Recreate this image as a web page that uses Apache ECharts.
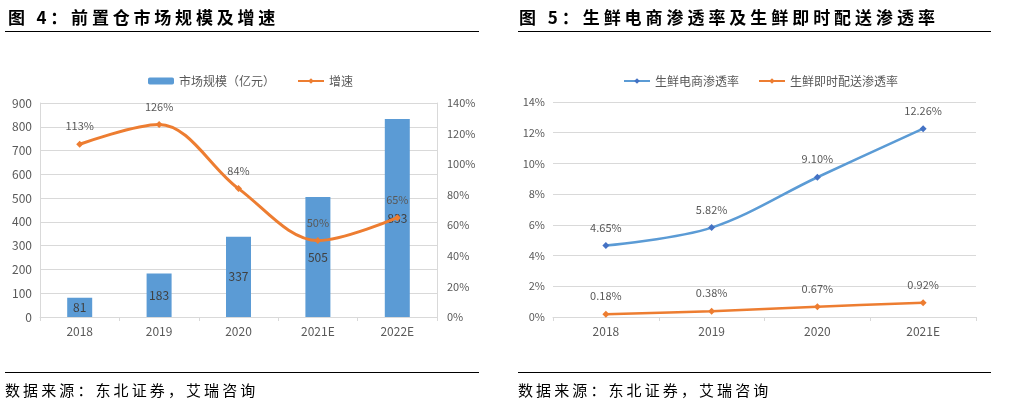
<!DOCTYPE html>
<html>
<head>
<meta charset="utf-8">
<script src="https://cdn.jsdelivr.net/npm/echarts@6/dist/echarts.min.js"></script>
<style>
  html, body { margin: 0; padding: 0; background: #fff; }
  #wrap { position: relative; width: 1012px; height: 399px; overflow: hidden; }
  #chart { position: absolute; left: 0; top: 0; width: 1012px; height: 399px; }
  .title, .source { position: absolute; font-family: 'Noto Sans CJK SC', sans-serif; color: #000; white-space: nowrap; }
  .title { font-size: 17px; font-weight: bold; line-height: 20px; top: 7px; }
  .source { font-size: 15px; line-height: 18px; top: 381px; letter-spacing: 3.1px; }
  .rule { position: absolute; height: 0; border-top: 1.3px solid #000; }
</style>
</head>
<body>
<div id="wrap">
  <div id="chart"></div>
  <div class="title" style="left:8px; letter-spacing:3.8px;">图 4：前置仓市场规模及增速</div>
  <div class="rule" style="left:5px; width:474px; top:31px;"></div>
  <div class="title" style="left:519px; letter-spacing:3.95px;">图 5：生鲜电商渗透率及生鲜即时配送渗透率</div>
  <div class="rule" style="left:518px; width:473px; top:31px;"></div>
  <div class="rule" style="left:5px; width:474px; top:372px;"></div>
  <div class="source" style="left:5px;">数据来源：东北证券，艾瑞咨询</div>
  <div class="rule" style="left:518px; width:473px; top:372px;"></div>
  <div class="source" style="left:518px;">数据来源：东北证券，艾瑞咨询</div>
</div>
<script>
// left chart: 前置仓市场规模及增速
const years1 = ['2018', '2019', '2020', '2021E', '2022E'];
const marketSize = [81, 183, 337, 505, 833];
const growthRate = [113, 126, 84, 50, 65];

// right chart: 渗透率
const years2 = ['2018', '2019', '2020', '2021E'];
const ecomRate = [4.65, 5.82, 9.10, 12.26];
const instantRate = [0.18, 0.38, 0.67, 0.92];

const FONT = 'Noto Sans CJK SC';
const GREY = '#595959';
const LINE_GREY = '#D9D9D9';

const chart = echarts.init(document.getElementById('chart'), null, { renderer: 'canvas' });

const catAxis = (gridIndex, data) => ({
  type: 'category',
  gridIndex,
  data,
  axisLine: { lineStyle: { color: LINE_GREY } },
  axisTick: { show: true, length: 4, lineStyle: { color: LINE_GREY } },
  axisLabel: { color: GREY, fontSize: 12, fontFamily: FONT, margin: 8 }
});

const pctLabel = {
  show: true, position: 'top', distance: 9, color: GREY, fontSize: 11, fontFamily: FONT,
  formatter: p => p.value.toFixed(2) + '%'
};

const option = {
  animation: false,
  backgroundColor: '#fff',
  textStyle: { fontFamily: FONT },
  legend: [
    {
      left: 143,
      top: 70,
      itemWidth: 26,
      itemHeight: 7,
      itemGap: 22,
      textStyle: { color: GREY, fontSize: 12, fontFamily: FONT },
      data: ['市场规模（亿元）', '增速']
    },
    {
      left: 618,
      top: 70,
      itemWidth: 26,
      itemHeight: 7,
      itemGap: 19,
      textStyle: { color: GREY, fontSize: 12, fontFamily: FONT },
      data: ['生鲜电商渗透率', '生鲜即时配送渗透率']
    }
  ],
  grid: [
    { left: 40, top: 103, width: 397, height: 214 },
    { left: 553, top: 102, width: 423, height: 215 }
  ],
  xAxis: [catAxis(0, years1), catAxis(1, years2)],
  yAxis: [
    {
      type: 'value',
      gridIndex: 0,
      min: 0,
      max: 900,
      interval: 100,
      axisLine: { show: true, lineStyle: { color: LINE_GREY } },
      axisTick: { show: false },
      splitLine: { lineStyle: { color: LINE_GREY } },
      axisLabel: { color: GREY, fontSize: 12, fontFamily: FONT, margin: 8 }
    },
    {
      type: 'value',
      gridIndex: 0,
      position: 'right',
      min: 0,
      max: 140,
      interval: 20,
      axisLine: { show: true, lineStyle: { color: LINE_GREY } },
      axisTick: { show: false },
      splitLine: { show: false },
      axisLabel: { color: GREY, fontSize: 11, fontFamily: FONT, margin: 10, formatter: '{value}%' }
    },
    {
      type: 'value',
      gridIndex: 1,
      min: 0,
      max: 14,
      interval: 2,
      axisLine: { show: false },
      axisTick: { show: false },
      splitLine: { lineStyle: { color: LINE_GREY } },
      axisLabel: { color: GREY, fontSize: 11, fontFamily: FONT, margin: 8, formatter: '{value}%' }
    }
  ],
  series: [
    {
      name: '市场规模（亿元）',
      type: 'bar',
      xAxisIndex: 0,
      yAxisIndex: 0,
      barWidth: 25,
      data: marketSize,
      itemStyle: { color: '#5B9BD5' },
      label: { show: true, position: 'inside', color: '#404040', fontSize: 12, fontFamily: FONT }
    },
    {
      name: '增速',
      type: 'line',
      xAxisIndex: 0,
      yAxisIndex: 1,
      smooth: 0.34,
      data: growthRate,
      symbol: 'diamond',
      symbolSize: 7,
      lineStyle: { color: '#ED7D31', width: 3 },
      itemStyle: { color: '#ED7D31' },
      label: { show: true, position: 'top', distance: 9, color: GREY, fontSize: 11, fontFamily: FONT, formatter: '{c}%' },
      z: 3
    },
    {
      name: '生鲜电商渗透率',
      type: 'line',
      xAxisIndex: 1,
      yAxisIndex: 2,
      smooth: 0.34,
      data: ecomRate,
      symbol: 'diamond',
      symbolSize: 7,
      lineStyle: { color: '#5B9BD5', width: 2.5 },
      itemStyle: { color: '#4472C4' },
      label: pctLabel
    },
    {
      name: '生鲜即时配送渗透率',
      type: 'line',
      xAxisIndex: 1,
      yAxisIndex: 2,
      smooth: 0.34,
      data: instantRate,
      symbol: 'diamond',
      symbolSize: 7,
      lineStyle: { color: '#ED7D31', width: 2.5 },
      itemStyle: { color: '#ED7D31' },
      label: pctLabel
    }
  ]
};

chart.setOption(option);
</script>
</body>
</html>
